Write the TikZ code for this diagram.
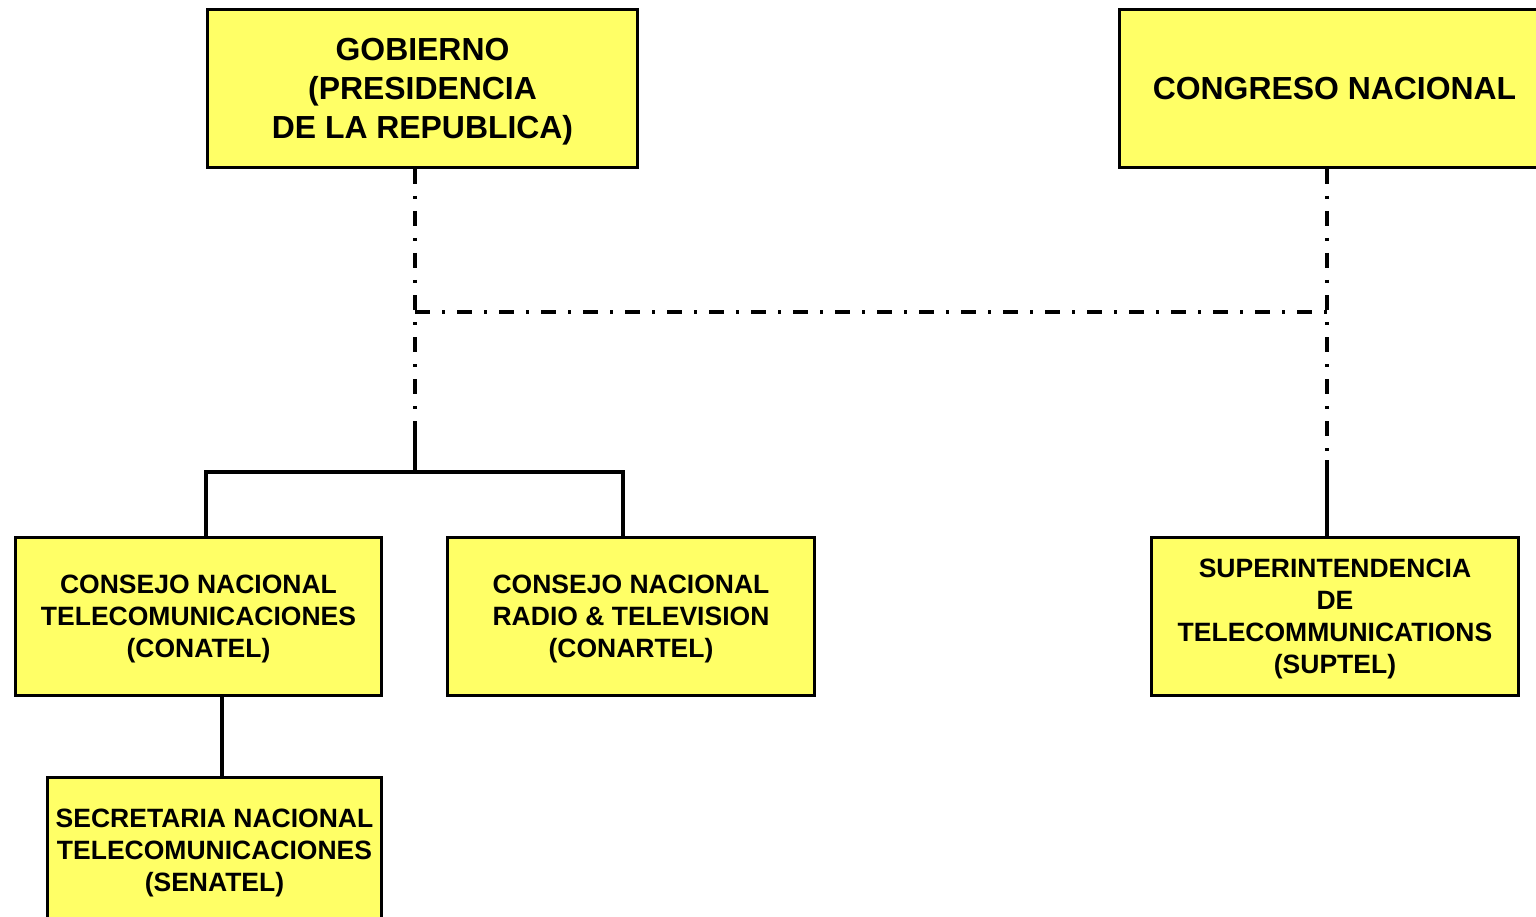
\documentclass[tikz,border=0pt]{standalone}
\usepackage{fontspec}
\setmainfont{Liberation Sans}
\definecolor{boxyellow}{RGB}{255,255,102}
\begin{document}
\begin{tikzpicture}[x=1pt,y=-1pt,
  box/.style={draw=black, line width=3pt, fill=boxyellow, align=center, inner sep=0pt,
    text depth=0pt, minimum height=158pt, font=\bfseries\fontsize{26.5}{32}\selectfont},
  bigbox/.style={box, minimum width=430pt, font=\bfseries\fontsize{31.9}{39}\selectfont},
  dd/.style={line width=3.2pt, dash pattern=on 15pt off 12pt on 3pt off 12pt},
  solidline/.style={line width=3.2pt}]
\useasboundingbox (0,0) rectangle (1536,917);
\clip (0,0) rectangle (1536,917);
\fill[white] (0,0) rectangle (1536,917);

\node[bigbox] (gob) at (422.5,88.5) {GOBIERNO\\(PRESIDENCIA\\DE LA REPUBLICA)};
\node[bigbox] (cong) at (1334.5,88.5) {CONGRESO NACIONAL};
\node[box, minimum width=366pt] (conatel) at (198.5,616.5) {CONSEJO NACIONAL\\TELECOMUNICACIONES\\(CONATEL)};
\node[box, minimum width=367pt] (conartel) at (631,616.5) {CONSEJO NACIONAL\\RADIO \& TELEVISION\\(CONARTEL)};
\node[box, minimum width=367pt] (sup) at (1335,616.5) {SUPERINTENDENCIA\\DE\\TELECOMMUNICATIONS\\(SUPTEL)};
\node[box, minimum width=334pt, minimum height=145pt] (senatel) at (214.5,850) {SECRETARIA NACIONAL\\TELECOMUNICACIONES\\(SENATEL)};

\coordinate (jg) at (415,312);
\coordinate (ls) at (415,425);
\coordinate (jb) at (415,472);
\coordinate (jc) at (1327,312);
\coordinate (rs) at (1327,460);
\coordinate (bl) at (206,472);
\coordinate (br) at (623,472);
\coordinate (sx) at (222,737);

\draw[dd] (jg |- gob.south) -- (ls);
\draw[solidline] (ls) -- (jb);
\draw[dd] (jg) -- (jc);
\draw[dd] (jc |- cong.south) -- (rs);
\draw[solidline] (rs) -- (rs |- sup.north);
\draw[solidline] (bl |- conatel.north) -- (bl) -- (br) -- (br |- conartel.north);
\draw[solidline] (sx |- conatel.south) -- (sx |- senatel.north);
\end{tikzpicture}
\end{document}
